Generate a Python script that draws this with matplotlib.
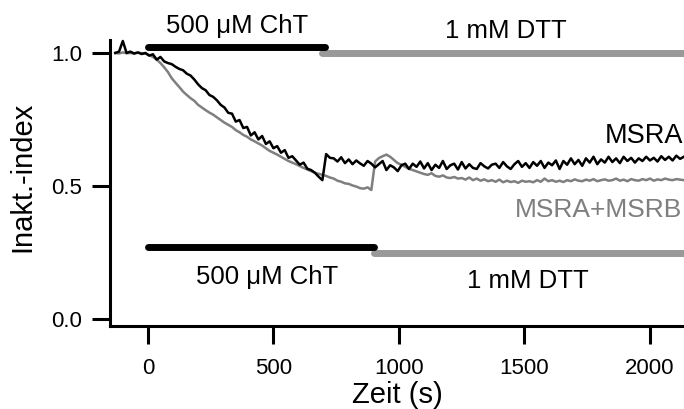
import numpy as np
import matplotlib
matplotlib.use("Agg")
import matplotlib.pyplot as plt

plt.rcParams['font.family'] = ['Liberation Sans', 'DejaVu Sans']

# sampled time axis (s)
t0 = -130
dt = 15

msra = [
    1.000, 1.005, 1.045, 1.000, 1.005, 0.998, 1.002, 0.996, 1.000, 0.990,
    0.995, 0.975, 0.985, 0.968, 0.962, 0.958, 0.948, 0.940, 0.935, 0.922,
    0.915, 0.900, 0.882, 0.868, 0.860, 0.842, 0.835, 0.822, 0.805, 0.795,
    0.775, 0.772, 0.742, 0.748, 0.718, 0.722, 0.690, 0.702, 0.675, 0.688,
    0.658, 0.668, 0.642, 0.650, 0.625, 0.635, 0.606, 0.612, 0.596, 0.580,
    0.588, 0.565, 0.560, 0.550, 0.535, 0.522, 0.620, 0.606, 0.604, 0.592,
    0.608, 0.586, 0.600, 0.582, 0.596, 0.585, 0.576, 0.594, 0.584, 0.570,
    0.582, 0.594, 0.560, 0.578, 0.570, 0.556, 0.578, 0.584, 0.564, 0.584,
    0.572, 0.592, 0.566, 0.586, 0.560, 0.580, 0.568, 0.594, 0.564, 0.578,
    0.584, 0.562, 0.590, 0.566, 0.582, 0.568, 0.564, 0.586, 0.574, 0.566,
    0.580, 0.584, 0.568, 0.590, 0.574, 0.564, 0.582, 0.594, 0.572, 0.586,
    0.568, 0.590, 0.576, 0.594, 0.568, 0.588, 0.578, 0.596, 0.564, 0.594,
    0.580, 0.604, 0.582, 0.598, 0.576, 0.604, 0.588, 0.610, 0.582, 0.600,
    0.588, 0.610, 0.590, 0.604, 0.586, 0.610, 0.594, 0.606, 0.588, 0.604,
    0.594, 0.610, 0.596, 0.606, 0.592, 0.612, 0.598, 0.610, 0.596, 0.614,
    0.602, 0.610,
]

msra_msrb = [
    1.000, 0.998, 1.002, 0.999, 1.000, 0.998, 1.001, 0.999, 0.998, 0.992,
    0.985, 0.975, 0.962, 0.946, 0.928, 0.905, 0.888, 0.872, 0.855, 0.842,
    0.830, 0.820, 0.805, 0.795, 0.785, 0.776, 0.768, 0.758, 0.748, 0.738,
    0.730, 0.722, 0.710, 0.702, 0.692, 0.685, 0.675, 0.668, 0.660, 0.652,
    0.642, 0.632, 0.625, 0.618, 0.610, 0.602, 0.594, 0.588, 0.582, 0.575,
    0.568, 0.562, 0.556, 0.550, 0.546, 0.542, 0.538, 0.532, 0.528, 0.520,
    0.516, 0.510, 0.508, 0.502, 0.498, 0.492, 0.490, 0.495, 0.485, 0.592,
    0.605, 0.612, 0.618, 0.610, 0.598, 0.586, 0.580, 0.572, 0.565, 0.560,
    0.555, 0.550, 0.545, 0.542, 0.548, 0.538, 0.535, 0.540, 0.532, 0.530,
    0.534, 0.528, 0.530, 0.524, 0.532, 0.522, 0.528, 0.520, 0.525, 0.518,
    0.522, 0.516, 0.524, 0.514, 0.520, 0.515, 0.518, 0.512, 0.520, 0.516,
    0.518, 0.514, 0.522, 0.516, 0.528, 0.518, 0.522, 0.516, 0.520, 0.515,
    0.522, 0.518, 0.525, 0.520, 0.518, 0.524, 0.520, 0.526, 0.518, 0.522,
    0.525, 0.520, 0.522, 0.528, 0.520, 0.524, 0.518, 0.526, 0.522, 0.520,
    0.526, 0.522, 0.528, 0.520, 0.525, 0.522, 0.528, 0.524, 0.522, 0.526,
    0.524, 0.522,
]

# application periods (s) and bar levels
cht_top = [0, 705]
dtt_top = [693, 2140]
cht_bottom = [0, 900]
dtt_bottom = [900, 2140]
bar_levels = {'cht_top': 1.023, 'dtt_top': 1.0, 'cht_bottom': 0.271, 'dtt_bottom': 0.25}

x_ticks = [0, 500, 1000, 1500, 2000]
y_ticks = [0.0, 0.5, 1.0]
y_ticklabels = ['0.0', '0.5', '1.0']

t_msra = t0 + dt * np.arange(len(msra))
t_msrb = t0 + dt * np.arange(len(msra_msrb))

fig = plt.figure(figsize=(6.84, 4.09), dpi=100)
ax = fig.add_axes([110 / 684, 1 - 326 / 409, 574 / 684, 326 / 409])

grey_bar = '#999999'
grey_trace = '#7f7f7f'

ax.plot(t_msrb, msra_msrb, color=grey_trace, lw=1.8, zorder=3)
ax.plot(t_msra, msra, color='black', lw=1.8, zorder=4)

ax.plot(dtt_top, [bar_levels['dtt_top']] * 2, color=grey_bar, lw=5,
        solid_capstyle='round', zorder=5, clip_on=False)
ax.plot(cht_top, [bar_levels['cht_top']] * 2, color='black', lw=5,
        solid_capstyle='round', zorder=6, clip_on=False)
ax.plot(dtt_bottom, [bar_levels['dtt_bottom']] * 2, color=grey_bar, lw=5,
        solid_capstyle='round', zorder=5, clip_on=False)
ax.plot(cht_bottom, [bar_levels['cht_bottom']] * 2, color='black', lw=5,
        solid_capstyle='round', zorder=6, clip_on=False)

fs_ann = 18.5
ax.text(355, 1.075, '500 μM ChT', ha='center', va='baseline', fontsize=fs_ann)
ax.text(1426, 1.056, '1 mM DTT', ha='center', va='baseline', fontsize=fs_ann)
ax.text(474, 0.132, '500 μM ChT', ha='center', va='baseline', fontsize=fs_ann)
ax.text(1514, 0.117, '1 mM DTT', ha='center', va='baseline', fontsize=fs_ann)
ax.text(2133, 0.662, 'MSRA', ha='right', va='baseline', fontsize=19.5)
ax.text(2128, 0.383, 'MSRA+MSRB', ha='right', va='baseline', fontsize=19,
        color=grey_trace, clip_on=False)

ax.set_xlim(-151, 2135.5)
ax.set_ylim(-0.026, 1.199)

for s in ['top', 'right']:
    ax.spines[s].set_visible(False)
ax.spines['left'].set_bounds(-0.026, 1.049)
ax.spines['left'].set_linewidth(2.2)
ax.spines['bottom'].set_linewidth(2.2)

ax.set_xticks(x_ticks)
ax.set_yticks(y_ticks)
ax.set_yticklabels(y_ticklabels)
ax.tick_params(axis='both', direction='out', length=13, width=2.2, labelsize=16)
ax.tick_params(axis='x', pad=10)
ax.tick_params(axis='y', pad=7)

ax.set_xlabel('Zeit (s)', fontsize=21, va='baseline')
ax.xaxis.set_label_coords(0.5, (326 - 403) / 326)
ax.set_ylabel('Inakt.-index', fontsize=21)
ax.yaxis.set_label_coords((36 - 110) / 574, (326 - 177) / 326)

fig.savefig('out.png', dpi=100)
